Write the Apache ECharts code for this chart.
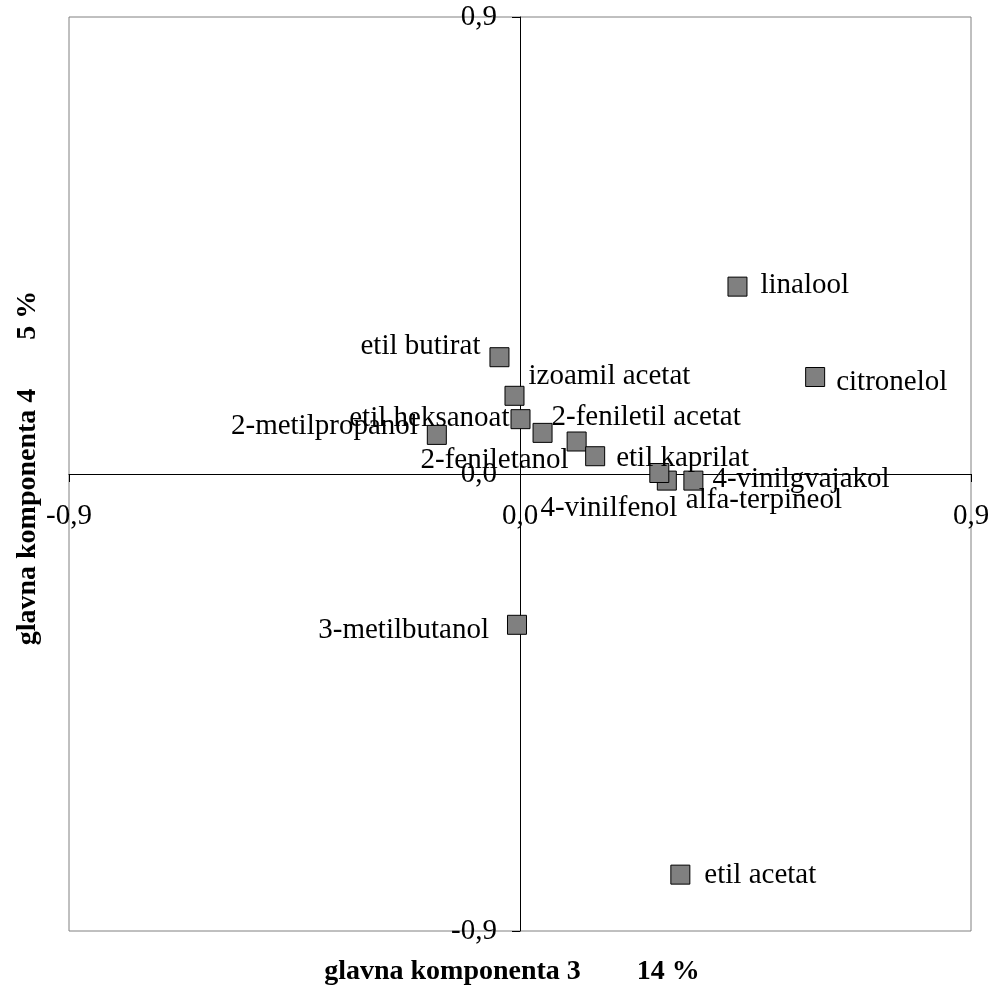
<!DOCTYPE html>
<html><head><meta charset="utf-8">
<script src="https://cdn.jsdelivr.net/npm/echarts@6/dist/echarts.min.js"></script>
<style>html,body{margin:0;padding:0;background:#fff}#c{width:988px;height:992px}</style>
</head><body><div id="c"></div>
<script>
// ---- data ----
const compounds = ['linalool','citronelol','etil butirat','izoamil acetat','etil heksanoat','2-metilpropanol','2-feniletil acetat','2-feniletanol','etil kaprilat','alfa-terpineol','4-vinilfenol','4-vinilgvajakol','3-metilbutanol','etil acetat'];
const pc3 = [0.434, 0.589, -0.041, -0.011, 0.001, -0.166, 0.045, 0.113, 0.150, 0.293, 0.278, 0.346, -0.006, 0.320];
const pc4 = [0.369, 0.191, 0.230, 0.154, 0.108, 0.077, 0.081, 0.064, 0.035, -0.013, 0.002, -0.013, -0.297, -0.789];
const xTicks = [-0.9, 0, 0.9];
const yTicks = [-0.9, 0, 0.9];
const xTitle = 'glavna komponenta 3        14 %';
const yTitle = 'glavna komponenta 4       5 %';

// ---- label layout (align, dx, dy from marker centre) ----
const labelLayout = {
  'linalool': ['left', 23, -1],
  'citronelol': ['left', 21, 5],
  'etil butirat': ['right', -19, -11],
  'izoamil acetat': ['left', 14, -19],
  'etil heksanoat': ['right', -11, -1],
  '2-metilpropanol': ['right', -19, -9],
  '2-feniletil acetat': ['left', 9, -15],
  '2-feniletanol': ['right', -8, 19],
  'etil kaprilat': ['left', 21, 2],
  'alfa-terpineol': ['left', 19, 20],
  '4-vinilfenol': ['right', 18, 35],
  '4-vinilgvajakol': ['left', 19, -1],
  '3-metilbutanol': ['right', -28, 6],
  'etil acetat': ['left', 24, 1]
};

const FONT = 'Liberation Serif';
const FS = 29;
const GRID = { left: 69, top: 17, width: 902, height: 914 };
const fmt = v => (Math.abs(v) < 1e-9 ? 0 : v).toFixed(1).replace('.', ',');

const seriesData = compounds.map((n, i) => {
  const L = labelLayout[n];
  return {
    name: n,
    value: [pc3[i], pc4[i]],
    label: { show: true, position: 'inside', align: L[0], verticalAlign: 'middle', offset: [L[1], L[2]], formatter: n }
  };
});

const chart = echarts.init(document.getElementById('c'), null, { renderer: 'canvas' });
chart.setOption({
  animation: false,
  backgroundColor: '#fff',
  grid: Object.assign({ show: true, borderColor: '#808080', borderWidth: 1, backgroundColor: 'transparent', containLabel: false, outerBoundsMode: 'none' }, GRID),
  xAxis: {
    type: 'value', position: 'bottom', offset: -GRID.height / 2,
    min: xTicks[0], max: xTicks[xTicks.length - 1], interval: xTicks[1] - xTicks[0],
    axisLine: { onZero: false, lineStyle: { color: '#000', width: 1 } },
    axisTick: { show: true, length: 8, lineStyle: { color: '#000' } },
    splitLine: { show: false },
    axisLabel: { formatter: fmt, fontFamily: FONT, fontSize: FS, color: '#000', margin: 28, hideOverlap: false }
  },
  yAxis: {
    type: 'value', position: 'left', offset: -GRID.width / 2,
    min: yTicks[0], max: yTicks[yTicks.length - 1], interval: yTicks[1] - yTicks[0],
    axisLine: { onZero: false, lineStyle: { color: '#000', width: 1 } },
    axisTick: { show: true, length: 8, lineStyle: { color: '#000' } },
    splitLine: { show: false },
    axisLabel: { formatter: fmt, fontFamily: FONT, fontSize: FS, color: '#000', margin: 23, hideOverlap: false }
  },
  graphic: [
    { type: 'text', x: 512, y: 972, style: { text: xTitle, font: 'bold 28px "Liberation Serif"', fill: '#000', align: 'center', verticalAlign: 'middle' } },
    { type: 'text', x: 28, y: 468, rotation: Math.PI / 2, style: { text: yTitle, font: 'bold 28px "Liberation Serif"', fill: '#000', align: 'center', verticalAlign: 'middle' } }
  ],
  series: [{
    type: 'scatter',
    symbol: 'rect',
    symbolSize: 19,
    itemStyle: { color: '#808080', borderColor: '#000', borderWidth: 1, opacity: 1 },
    label: { fontFamily: FONT, fontSize: FS, color: '#000' },
    emphasis: { disabled: true },
    data: seriesData
  }]
});
</script></body></html>
